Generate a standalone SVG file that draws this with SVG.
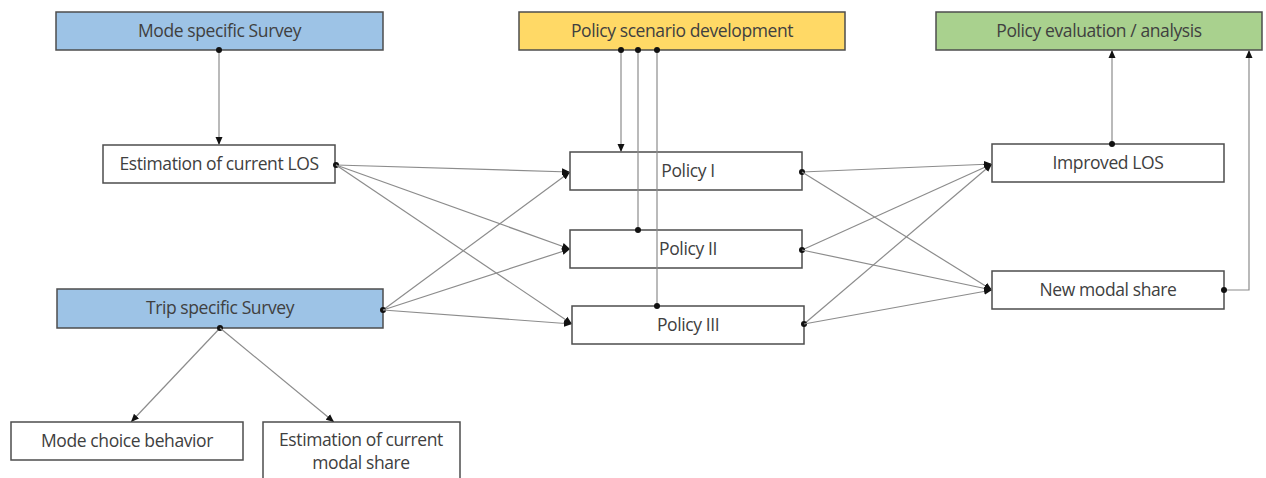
<svg xmlns="http://www.w3.org/2000/svg" width="1266" height="478" viewBox="0 0 1266 478">
<defs>
<style>
.box{fill:#fff;stroke:#4d4d4d;stroke-width:1.5}
.blue{fill:#9dc3e6}
.yellow{fill:#ffd966}
.green{fill:#a9d18e}
.t{font-family:"Open Sans","Liberation Sans",sans-serif;font-size:17.5px;fill:#404040;text-anchor:middle;letter-spacing:-0.4px}
.c{fill:none;stroke:#8c8c8c;stroke-width:1.2}
</style>
<marker id="dot" viewBox="0 0 6 6" refX="3" refY="3" markerWidth="6" markerHeight="6" markerUnits="userSpaceOnUse"><circle cx="3" cy="3" r="3" fill="#111"/></marker>
<marker id="arr" viewBox="0 0 8 8" refX="8" refY="4" markerWidth="8" markerHeight="8" markerUnits="userSpaceOnUse" orient="auto"><path d="M0,0.5 L8,4 L0,7.5 z" fill="#111"/></marker>
</defs>
<rect width="1266" height="478" fill="#fff"/>
<g id="mode-survey"><rect class="box blue" x="56" y="12" width="327" height="38"/><text class="t" x="219.5" y="37">Mode specific Survey</text></g>
<g id="policy-scenario"><rect class="box yellow" x="519" y="12" width="326" height="38"/><text class="t" x="682" y="37">Policy scenario development</text></g>
<g id="policy-eval"><rect class="box green" x="936" y="12" width="326" height="38"/><text class="t" x="1099" y="37">Policy evaluation / analysis</text></g>
<g id="est-los"><rect class="box" x="103" y="145" width="232" height="38"/><text class="t" x="219" y="170">Estimation of current LOS</text></g>
<g id="policy1"><rect class="box" x="570" y="152" width="232" height="38"/><text class="t" x="688" y="177">Policy I</text></g>
<g id="policy2"><rect class="box" x="570" y="230" width="232" height="38"/><text class="t" x="688" y="255">Policy II</text></g>
<g id="policy3"><rect class="box" x="572" y="306" width="232" height="38"/><text class="t" x="688" y="331">Policy III</text></g>
<g id="improved-los"><rect class="box" x="992" y="144" width="232" height="38"/><text class="t" x="1108" y="169">Improved LOS</text></g>
<g id="new-modal"><rect class="box" x="992" y="271" width="232" height="38"/><text class="t" x="1108" y="296">New modal share</text></g>
<g id="trip-survey"><rect class="box blue" x="57" y="289" width="326" height="39"/><text class="t" x="220" y="314">Trip specific Survey</text></g>
<g id="mode-choice"><rect class="box" x="11" y="422" width="232" height="38"/><text class="t" x="127" y="447">Mode choice behavior</text></g>
<g id="est-modal"><rect class="box" x="263" y="422" width="197" height="70"/><text class="t" x="361" y="446">Estimation of current</text><text class="t" x="361" y="469">modal share</text></g>
<g id="connectors">
<path class="c" d="M219,50 V145" marker-start="url(#dot)" marker-end="url(#arr)"/>
<path class="c" d="M621,50 V152" marker-start="url(#dot)" marker-end="url(#arr)"/>
<path class="c" d="M638,50 V230" marker-start="url(#dot)" marker-end="url(#dot)"/>
<path class="c" d="M657,50 V306" marker-start="url(#dot)" marker-end="url(#dot)"/>
<path class="c" d="M336,165 L570,172" marker-start="url(#dot)" marker-end="url(#arr)"/>
<path class="c" d="M336,165 L570,249" marker-end="url(#arr)"/>
<path class="c" d="M336,165 L572,324" marker-end="url(#arr)"/>
<path class="c" d="M383,310 L570,172" marker-start="url(#dot)" marker-end="url(#arr)"/>
<path class="c" d="M383,310 L570,249" marker-end="url(#arr)"/>
<path class="c" d="M383,310 L572,324" marker-end="url(#arr)"/>
<path class="c" d="M802,172 L992,164" marker-start="url(#dot)" marker-end="url(#arr)"/>
<path class="c" d="M802,172 L992,290" marker-end="url(#arr)"/>
<path class="c" d="M802,250 L992,164" marker-start="url(#dot)" marker-end="url(#arr)"/>
<path class="c" d="M802,250 L992,290" marker-end="url(#arr)"/>
<path class="c" d="M804,324 L992,164" marker-start="url(#dot)" marker-end="url(#arr)"/>
<path class="c" d="M804,324 L992,290" marker-end="url(#arr)"/>
<path class="c" d="M1112,144 V50" marker-start="url(#dot)" marker-end="url(#arr)"/>
<path class="c" d="M1224,290 H1249 V50" marker-start="url(#dot)" marker-end="url(#arr)"/>
<path class="c" d="M220,328 L131,422" marker-start="url(#dot)" marker-end="url(#arr)"/>
<path class="c" d="M220,328 L334,422" marker-end="url(#arr)"/>
</g>
</svg>
